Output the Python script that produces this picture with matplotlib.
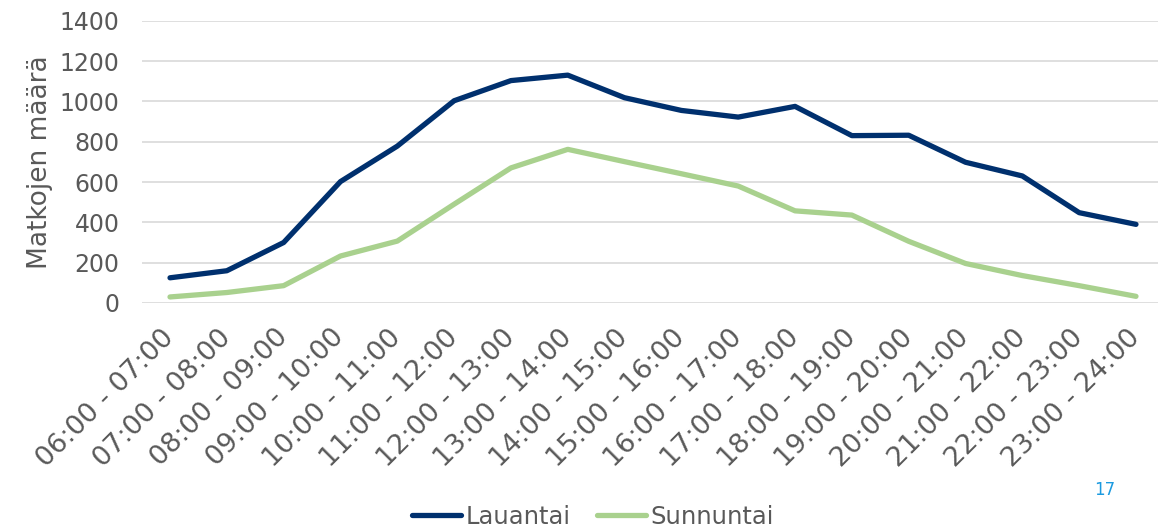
import numpy as np
import matplotlib.pyplot as plt

# hourly trip counts, weekend
hours = ['06:00 - 07:00', '07:00 - 08:00', '08:00 - 09:00', '09:00 - 10:00',
         '10:00 - 11:00', '11:00 - 12:00', '12:00 - 13:00', '13:00 - 14:00',
         '14:00 - 15:00', '15:00 - 16:00', '16:00 - 17:00', '17:00 - 18:00',
         '18:00 - 19:00', '19:00 - 20:00', '20:00 - 21:00', '21:00 - 22:00',
         '22:00 - 23:00', '23:00 - 24:00']
lauantai = [125, 160, 300, 602, 778, 1003, 1103, 1130, 1018, 955, 922, 975,
            830, 832, 698, 630, 448, 390]
sunnuntai = [30, 52, 86, 233, 307, 490, 670, 762, 701, 641, 580, 457,
             436, 306, 196, 136, 86, 33]

text_col = '#595959'
fs = 16.5

fig = plt.figure(figsize=(11.58, 5.29), dpi=100)
ax = fig.add_axes([141.6/1158, 1 - 303/529, (1164.4 - 141.6)/1158, (303 - 20.7)/529])

x = np.arange(len(hours))
ax.plot(x, lauantai, color='#00306E', lw=3.8, solid_capstyle='round',
        solid_joinstyle='round', label='Lauantai', zorder=3)
ax.plot(x, sunnuntai, color='#A9D18E', lw=3.8, solid_capstyle='round',
        solid_joinstyle='round', label='Sunnuntai', zorder=3)

ax.set_xlim(-0.5, len(hours) - 0.5)
ax.set_ylim(0, 1400)
ax.set_yticks(np.arange(0, 1401, 200))
ax.set_xticks(x)
ax.set_xticklabels(hours, rotation=45, ha='right', va='center',
                   rotation_mode='anchor')
ax.tick_params(axis='x', length=0, pad=22, labelsize=19.5, labelcolor=text_col)
ax.tick_params(axis='y', length=0, pad=16, labelsize=17, labelcolor=text_col)
ax.grid(axis='y', color='#D9D9D9', lw=1.2, zorder=0)
for s in ax.spines.values():
    s.set_visible(False)
ax.set_ylabel('Matkojen määrä', fontsize=19, color=text_col, labelpad=5)

fig.legend(loc='center', bbox_to_anchor=(593/1158, 1 - 517/529), ncol=2,
           frameon=False, fontsize=17.5, handlelength=2.0, handletextpad=0.2,
           columnspacing=1.1, labelcolor=text_col)

fig.text(1105/1158, 1 - 490/529, '17', fontsize=12, color='#1B9AE0',
         ha='center', va='center')

fig.savefig('out.png', dpi=100)
